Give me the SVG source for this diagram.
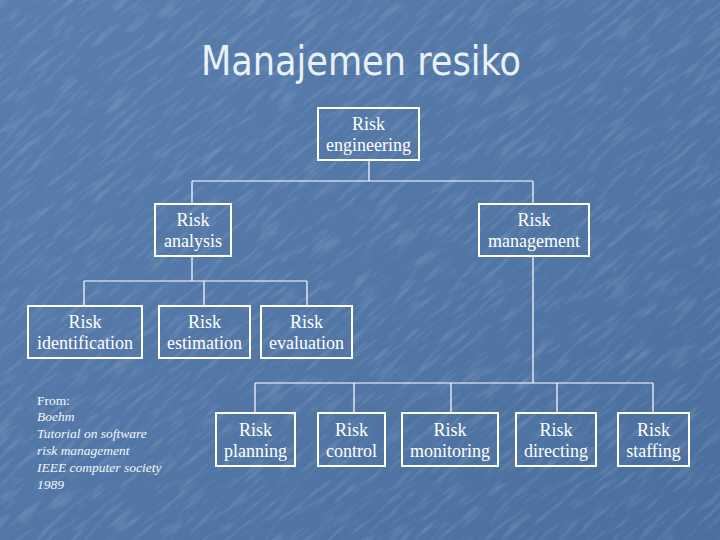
<svg xmlns="http://www.w3.org/2000/svg" width="720" height="540" viewBox="0 0 720 540">
<defs>
<linearGradient id="bg" x1="0" y1="0" x2="1" y2="1">
<stop offset="0" stop-color="#597ead"/>
<stop offset="0.5" stop-color="#5277a6"/>
<stop offset="1" stop-color="#4a6f9e"/>
</linearGradient>
<filter id="tex" x="0" y="0" width="100%" height="100%">
<feTurbulence type="fractalNoise" baseFrequency="0.03 0.2" numOctaves="3" seed="7" result="n"/>
<feColorMatrix in="n" type="matrix" values="0 0 0 0 1  0 0 0 0 1  0 0 0 0 1  0 0 0 1.6 -0.78"/>
</filter>
<style>
.box{fill:none;stroke:#ffffff;stroke-width:2}
.con{fill:none;stroke:#ffffff;stroke-width:1.2}
.lbl{font-family:"Liberation Serif","Times New Roman",serif;font-size:18px;fill:#ffffff;text-anchor:middle}
.cite{font-family:"Liberation Serif","Times New Roman",serif;font-size:13.5px;fill:#f2f6fb;font-style:italic}
.title{font-family:"DejaVu Sans","Liberation Sans",sans-serif;font-size:40px;fill:#e8f1f9;text-anchor:middle}
</style>
</defs>
<rect x="0" y="0" width="720" height="540" fill="url(#bg)"/>
<g transform="rotate(-40 360 270)" opacity="0.22">
<rect x="-200" y="-200" width="1120" height="940" filter="url(#tex)"/>
</g>
<text class="title" x="361" y="75" textLength="320" lengthAdjust="spacingAndGlyphs">Manajemen resiko</text>

<g id="connectors">
<path class="con" d="M369 160V181M192 181H533M192 181V203M533 181V203"/>
<path class="con" d="M192 256V281M84 281H307M84 281V306M204 281V306M307 281V306"/>
<path class="con" d="M533 256V383M255 383H653M255 383V413M354 383V413M451 383V413M557 383V413M653 383V413"/>
</g>

<g id="risk-engineering">
<rect class="box" x="318" y="108" width="101" height="52"/>
<text class="lbl" x="368.5" y="130">Risk</text>
<text class="lbl" x="368.5" y="151">engineering</text>
</g>
<g id="risk-analysis">
<rect class="box" x="155" y="204" width="76" height="52"/>
<text class="lbl" x="193" y="226">Risk</text>
<text class="lbl" x="193" y="247">analysis</text>
</g>
<g id="risk-management">
<rect class="box" x="479" y="204" width="110" height="52"/>
<text class="lbl" x="534" y="226">Risk</text>
<text class="lbl" x="534" y="247">management</text>
</g>
<g id="risk-identification">
<rect class="box" x="28" y="306" width="114" height="52"/>
<text class="lbl" x="85" y="328">Risk</text>
<text class="lbl" x="85" y="349">identification</text>
</g>
<g id="risk-estimation">
<rect class="box" x="159" y="306" width="91" height="52"/>
<text class="lbl" x="204.5" y="328">Risk</text>
<text class="lbl" x="204.5" y="349">estimation</text>
</g>
<g id="risk-evaluation">
<rect class="box" x="261" y="306" width="91" height="52"/>
<text class="lbl" x="306.5" y="328">Risk</text>
<text class="lbl" x="306.5" y="349">evaluation</text>
</g>
<g id="risk-planning">
<rect class="box" x="216" y="413" width="79" height="53"/>
<text class="lbl" x="255.5" y="436">Risk</text>
<text class="lbl" x="255.5" y="457">planning</text>
</g>
<g id="risk-control">
<rect class="box" x="318" y="413" width="67" height="53"/>
<text class="lbl" x="351.5" y="436">Risk</text>
<text class="lbl" x="351.5" y="457">control</text>
</g>
<g id="risk-monitoring">
<rect class="box" x="402" y="413" width="96" height="53"/>
<text class="lbl" x="450" y="436">Risk</text>
<text class="lbl" x="450" y="457">monitoring</text>
</g>
<g id="risk-directing">
<rect class="box" x="516" y="413" width="80" height="53"/>
<text class="lbl" x="556" y="436">Risk</text>
<text class="lbl" x="556" y="457">directing</text>
</g>
<g id="risk-staffing">
<rect class="box" x="618" y="413" width="71" height="53"/>
<text class="lbl" x="653.5" y="436">Risk</text>
<text class="lbl" x="653.5" y="457">staffing</text>
</g>

<g id="citation">
<text class="cite" x="37" y="405" style="font-style:normal">From:</text>
<text class="cite" x="37" y="421">Boehm</text>
<text class="cite" x="37" y="438">Tutorial on software</text>
<text class="cite" x="37" y="455">risk management</text>
<text class="cite" x="37" y="472">IEEE computer society</text>
<text class="cite" x="37" y="489">1989</text>
</g>
</svg>
